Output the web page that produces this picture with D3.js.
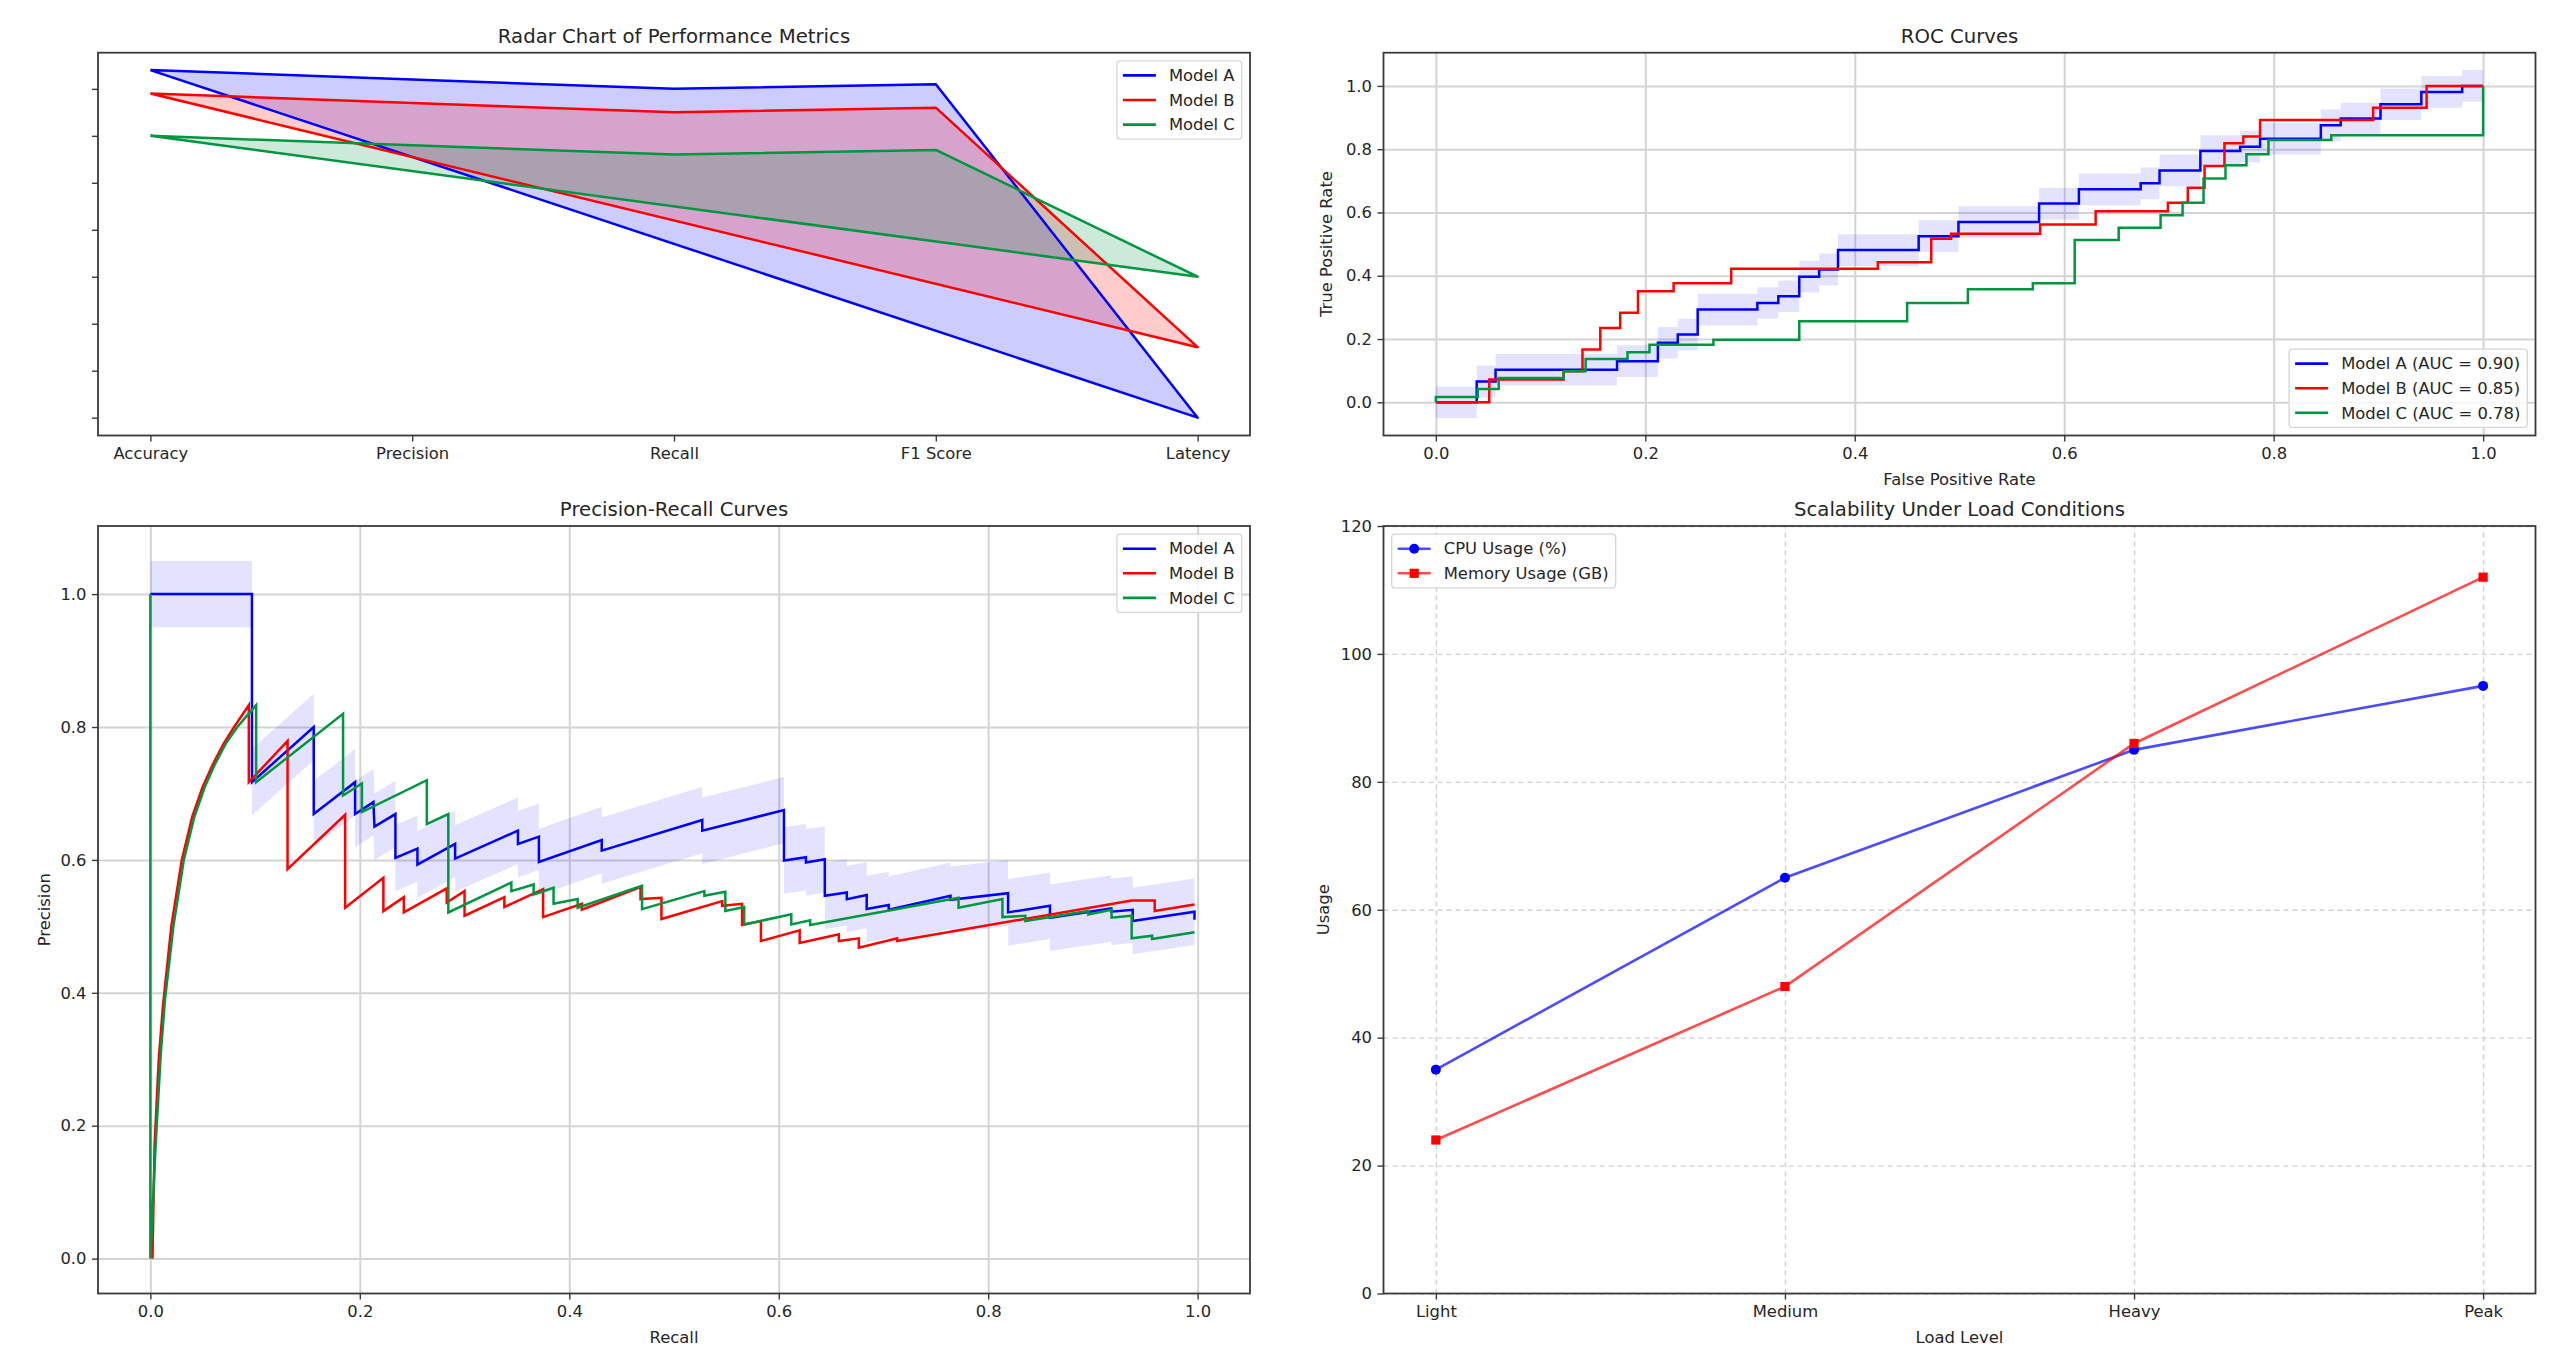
<!DOCTYPE html>
<html><head><meta charset="utf-8">
<script src="https://cdn.jsdelivr.net/npm/d3@7"></script>
<style>
body{margin:0;background:#fff;}
svg{display:block;}
text{font-family:"DejaVu Sans",sans-serif;}
</style>
</head><body>
<svg id="chart" width="2551" height="1368"></svg>
<script>
// ---------------- DATA ----------------
const modelNames = ["Model A", "Model B", "Model C"];

// Radar (drawn on cartesian axes)
const radarCategories = ["Accuracy", "Precision", "Recall", "F1 Score", "Latency"];
const radarModelA = [0.94, 0.92, 0.90, 0.91, 0.20];
const radarModelB = [0.89, 0.87, 0.85, 0.86, 0.35];
const radarModelC = [0.80, 0.78, 0.76, 0.77, 0.50];
const radarYTicks = [0.2, 0.3, 0.4, 0.5, 0.6, 0.7, 0.8, 0.9];

// ROC curves (step-after breakpoints)
const rocAUC = [0.90, 0.85, 0.78];
const rocA_fpr = [0, 0.039, 0.057, 0.173, 0.212, 0.231, 0.250, 0.307, 0.327, 0.347, 0.366, 0.384, 0.461, 0.499, 0.576, 0.614, 0.673, 0.691, 0.730, 0.768, 0.787, 0.845, 0.864, 0.902, 0.941, 0.980, 1.0];
const rocA_tpr = [0, 0.066, 0.103, 0.130, 0.188, 0.214, 0.293, 0.314, 0.335, 0.397, 0.420, 0.481, 0.525, 0.570, 0.628, 0.673, 0.692, 0.733, 0.794, 0.808, 0.833, 0.876, 0.897, 0.942, 0.981, 1.0, 1.0];
const rocB_fpr = [0, 0.051, 0.122, 0.140, 0.157, 0.176, 0.193, 0.227, 0.282, 0.422, 0.473, 0.492, 0.577, 0.630, 0.699, 0.718, 0.734, 0.753, 0.771, 0.787, 0.895, 0.946, 1.0];
const rocB_tpr = [0, 0.072, 0.098, 0.167, 0.235, 0.283, 0.351, 0.376, 0.422, 0.443, 0.517, 0.533, 0.562, 0.604, 0.631, 0.678, 0.747, 0.819, 0.840, 0.892, 0.931, 1.0, 1.0];
const rocC_fpr = [0, 0, 0.040, 0.060, 0.122, 0.143, 0.183, 0.204, 0.265, 0.347, 0.450, 0.508, 0.570, 0.610, 0.652, 0.692, 0.713, 0.733, 0.754, 0.774, 0.795, 0.855, 1.0];
const rocC_tpr = [0, 0.017, 0.042, 0.077, 0.098, 0.137, 0.158, 0.182, 0.198, 0.256, 0.314, 0.357, 0.376, 0.513, 0.552, 0.591, 0.631, 0.707, 0.749, 0.784, 0.829, 0.844, 1.0];
const rocBandHalfWidth = 0.05;

// Precision-Recall curves ([recall, precision] vertices)
const prModelA = [[0,1.0],[0.097,1.0],[0.097,0.717],[0.156,0.80],[0.156,0.669],[0.1955,0.717],[0.1955,0.669],[0.213,0.687],[0.214,0.650],[0.234,0.669],[0.234,0.603],[0.255,0.617],[0.255,0.593],[0.291,0.624],[0.291,0.602],[0.351,0.644],[0.351,0.624],[0.371,0.635],[0.371,0.597],[0.431,0.630],[0.431,0.614],[0.527,0.660],[0.527,0.644],[0.605,0.675],[0.605,0.599],[0.626,0.604],[0.626,0.596],[0.644,0.601],[0.644,0.546],[0.665,0.551],[0.665,0.541],[0.684,0.547],[0.684,0.526],[0.705,0.532],[0.705,0.525],[0.764,0.546],[0.764,0.540],[0.819,0.550],[0.819,0.521],[0.859,0.531],[0.859,0.513],[0.9175,0.527],[0.9175,0.522],[0.938,0.525],[0.938,0.508],[0.997,0.522],[0.997,0.510]];
const prModelB = [[0.002,0.0],[0.004,0.17],[0.008,0.30],[0.012,0.38],[0.02,0.50],[0.03,0.60],[0.04,0.665],[0.05,0.71],[0.06,0.745],[0.07,0.775],[0.08,0.80],[0.094,0.833],[0.094,0.717],[0.131,0.779],[0.131,0.586],[0.186,0.668],[0.186,0.528],[0.2225,0.573],[0.2225,0.523],[0.242,0.544],[0.242,0.521],[0.283,0.557],[0.283,0.536],[0.300,0.553],[0.300,0.516],[0.338,0.544],[0.338,0.529],[0.375,0.556],[0.375,0.514],[0.412,0.534],[0.412,0.525],[0.468,0.559],[0.468,0.541],[0.488,0.543],[0.488,0.511],[0.546,0.538],[0.546,0.531],[0.565,0.534],[0.565,0.502],[0.583,0.508],[0.583,0.478],[0.620,0.494],[0.620,0.475],[0.6574,0.488],[0.6574,0.478],[0.6765,0.482],[0.6765,0.468],[0.713,0.482],[0.713,0.478],[0.937,0.539],[0.959,0.539],[0.959,0.523],[0.997,0.533]];
const prModelC = [[0,1.0],[0,0.0],[0.005,0.17],[0.010,0.31],[0.014,0.39],[0.022,0.50],[0.032,0.60],[0.042,0.665],[0.052,0.71],[0.062,0.745],[0.072,0.775],[0.083,0.80],[0.101,0.833],[0.101,0.717],[0.184,0.82],[0.184,0.697],[0.202,0.715],[0.202,0.672],[0.264,0.72],[0.264,0.654],[0.2845,0.669],[0.2845,0.521],[0.3447,0.566],[0.3447,0.553],[0.366,0.563],[0.366,0.548],[0.385,0.558],[0.385,0.534],[0.408,0.541],[0.408,0.528],[0.4695,0.561],[0.4695,0.526],[0.529,0.553],[0.529,0.546],[0.549,0.552],[0.549,0.523],[0.567,0.529],[0.567,0.503],[0.612,0.518],[0.612,0.503],[0.630,0.509],[0.630,0.502],[0.7717,0.543],[0.7717,0.528],[0.8136,0.541],[0.8136,0.514],[0.8355,0.516],[0.8355,0.508],[0.8955,0.523],[0.8955,0.518],[0.9178,0.525],[0.9178,0.513],[0.937,0.516],[0.937,0.482],[0.9565,0.486],[0.9565,0.481],[0.997,0.491]];
const prBandHalfWidth = 0.05;

// Scalability
const loadLevels = ["Light", "Medium", "Heavy", "Peak"];
const cpuUsage = [35, 65, 85, 95];
const memoryUsage = [24, 48, 86, 112];
const usageTicks = [0, 20, 40, 60, 80, 100, 120];
const unitTicks = [0, 0.2, 0.4, 0.6, 0.8, 1.0];

// ---------------- STYLE / LAYOUT ----------------
const COL = {A: "#0000ff", B: "#ff0000", C: "#009640"};
const FS = 16.4, TFS = 19.7, TXT = "#262626", SPINE = "#3a3a3a";
const svg = d3.select("#chart");
const boxRadar = {x0: 98, x1: 1250, y0: 52.7, y1: 435.5};
const boxROC = {x0: 1383.5, x1: 2535.5, y0: 52.7, y1: 435.5};
const boxPR = {x0: 98, x1: 1250, y0: 526, y1: 1293.5};
const boxScal = {x0: 1383.5, x1: 2535.5, y0: 526, y1: 1293.5};

let clipId = 0;
function clip(box) {
  const id = "clip" + (clipId++);
  svg.append("clipPath").attr("id", id).append("rect")
    .attr("x", box.x0).attr("y", box.y0).attr("width", box.x1 - box.x0).attr("height", box.y1 - box.y0);
  return "url(#" + id + ")";
}

function drawGrid(box, x, y, xt, yt, color, width, dash) {
  const g = svg.append("g");
  g.append("g").attr("transform", `translate(0,${box.y1})`)
    .call(d3.axisBottom(x).tickValues(xt).tickSize(-(box.y1 - box.y0)).tickFormat(""))
    .call(s => { s.select(".domain").remove(); s.selectAll("line").attr("stroke", color).attr("stroke-width", width).attr("stroke-dasharray", dash); });
  g.append("g").attr("transform", `translate(${box.x0},0)`)
    .call(d3.axisLeft(y).tickValues(yt).tickSize(-(box.x1 - box.x0)).tickFormat(""))
    .call(s => { s.select(".domain").remove(); s.selectAll("line").attr("stroke", color).attr("stroke-width", width).attr("stroke-dasharray", dash); });
}

function drawAxes(box, x, y, o) {
  const g = svg.append("g");
  const styleAxis = s => {
    s.select(".domain").remove();
    s.selectAll("line").attr("stroke", SPINE).attr("stroke-width", 1.4);
    s.selectAll("text").attr("font-size", FS).attr("fill", TXT).attr("font-family", "DejaVu Sans");
  };
  g.append("g").attr("transform", `translate(0,${box.y1})`)
    .call(d3.axisBottom(x).tickValues(o.xTicks).tickFormat(o.xFormat).tickSize(6).tickPadding(5.5).tickSizeOuter(0))
    .call(styleAxis);
  g.append("g").attr("transform", `translate(${box.x0},0)`)
    .call(d3.axisLeft(y).tickValues(o.yTicks).tickFormat(o.yFormat).tickSize(6).tickPadding(5.5).tickSizeOuter(0))
    .call(styleAxis);
  g.append("rect").attr("x", box.x0).attr("y", box.y0).attr("width", box.x1 - box.x0).attr("height", box.y1 - box.y0)
    .attr("fill", "none").attr("stroke", SPINE).attr("stroke-width", 1.8);
  const cx = (box.x0 + box.x1) / 2;
  g.append("text").attr("x", cx).attr("y", box.y0 - 9.8).attr("text-anchor", "middle")
    .attr("font-size", TFS).attr("fill", TXT).text(o.title);
  if (o.xlabel) g.append("text").attr("x", cx).attr("y", box.y1 + 49).attr("text-anchor", "middle")
    .attr("font-size", FS).attr("fill", TXT).text(o.xlabel);
  if (o.ylabel) {
    const cy = (box.y0 + box.y1) / 2;
    g.append("text").attr("transform", `translate(${box.x0 - o.ylabelOffset},${cy}) rotate(-90)`)
      .attr("text-anchor", "middle").attr("dy", "0.35em").attr("font-size", FS).attr("fill", TXT).text(o.ylabel);
  }
}

function legend(box, items, corner) {
  const rowH = 24.6, n = items.length;
  const g = svg.append("g");
  const tmp = g.append("g");
  const widths = items.map(it => {
    const t = tmp.append("text").attr("font-size", FS).text(it.label);
    return t.node().getComputedTextLength();
  });
  tmp.remove();
  const w = 6 + 33 + 13 + d3.max(widths) + 7;
  const h = (n - 1) * rowH + 29;
  const bx = corner.includes("r") ? box.x1 - 8.2 - w : box.x0 + 8.2;
  const by = corner.includes("u") ? box.y0 + 8.2 : box.y1 - 8.2 - h;
  g.append("rect").attr("x", bx).attr("y", by).attr("width", w).attr("height", h).attr("rx", 3)
    .attr("fill", "#fff").attr("fill-opacity", 0.8).attr("stroke", "#d6d6d6").attr("stroke-width", 1.3);
  items.forEach((it, i) => {
    const ry = by + 14.5 + i * rowH;
    g.append("line").attr("x1", bx + 6).attr("x2", bx + 39).attr("y1", ry).attr("y2", ry)
      .attr("stroke", it.color).attr("stroke-width", 2.6).attr("stroke-opacity", it.lineOpacity || 1);
    if (it.marker === "circle") g.append("circle").attr("cx", bx + 22.5).attr("cy", ry).attr("r", 5).attr("fill", it.color);
    if (it.marker === "square") g.append("rect").attr("x", bx + 22.5 - 4.6).attr("y", ry - 4.6).attr("width", 9.2).attr("height", 9.2).attr("fill", it.color);
    g.append("text").attr("x", bx + 52).attr("y", ry).attr("dy", "0.35em").attr("font-size", FS).attr("fill", TXT).text(it.label);
  });
}

// ---------------- RADAR (cartesian) ----------------
{
  const box = boxRadar;
  const x = d3.scaleLinear().domain([-0.2, 4.2]).range([box.x0, box.x1]);
  const y = d3.scaleLinear().domain([0.162, 0.977]).range([box.y1, box.y0]);
  const series = [radarModelA, radarModelB, radarModelC];
  const cols = [COL.A, COL.B, COL.C];
  const line = d3.line().x(d => x(d[0])).y(d => y(d[1]));
  const pts = series.map(vals => {
    const p = vals.map((v, i) => [i, v]);
    p.push([0, vals[0]]);
    return p;
  });
  const g = svg.append("g").attr("clip-path", clip(box));
  pts.forEach((p, k) => g.append("path").attr("d", line(p) + "Z").attr("fill", cols[k]).attr("fill-opacity", 0.2).attr("stroke", "none"));
  pts.forEach((p, k) => g.append("path").attr("d", line(p)).attr("fill", "none").attr("stroke", cols[k]).attr("stroke-width", 2.5).attr("stroke-linejoin", "round"));
  drawAxes(box, x, y, {xTicks: d3.range(radarCategories.length), xFormat: i => radarCategories[i],
    yTicks: radarYTicks, yFormat: () => "", title: "Radar Chart of Performance Metrics"});
  legend(box, modelNames.map((m, k) => ({label: m, color: cols[k]})), "ur");
}

// ---------------- ROC ----------------
{
  const box = boxROC;
  const x = d3.scaleLinear().domain([-0.05, 1.05]).range([box.x0, box.x1]);
  const y = d3.scaleLinear().domain([-0.105, 1.105]).range([box.y1, box.y0]);
  drawGrid(box, x, y, unitTicks, unitTicks, "#d4d4d4", 2, null);
  const g = svg.append("g").attr("clip-path", clip(box));
  const toPts = (f, t) => f.map((v, i) => [v, t[i]]);
  const A = toPts(rocA_fpr, rocA_tpr), B = toPts(rocB_fpr, rocB_tpr), C = toPts(rocC_fpr, rocC_tpr);
  const band = d3.area().curve(d3.curveStepAfter).x(d => x(d[0]))
    .y0(d => y(d[1] - rocBandHalfWidth)).y1(d => y(d[1] + rocBandHalfWidth));
  g.append("path").attr("d", band(A)).attr("fill", COL.A).attr("fill-opacity", 0.11);
  const line = d3.line().curve(d3.curveStepAfter).x(d => x(d[0])).y(d => y(d[1]));
  [[A, COL.A], [B, COL.B], [C, COL.C]].forEach(([p, c]) =>
    g.append("path").attr("d", line(p)).attr("fill", "none").attr("stroke", c).attr("stroke-width", 2.5));
  drawAxes(box, x, y, {xTicks: unitTicks, xFormat: d3.format(".1f"), yTicks: unitTicks, yFormat: d3.format(".1f"),
    title: "ROC Curves", xlabel: "False Positive Rate", ylabel: "True Positive Rate", ylabelOffset: 57});
  legend(box, modelNames.map((m, k) => ({label: `${m} (AUC = ${rocAUC[k].toFixed(2)})`, color: [COL.A, COL.B, COL.C][k]})), "lr");
}

// ---------------- PRECISION-RECALL ----------------
{
  const box = boxPR;
  const x = d3.scaleLinear().domain([-0.05, 1.05]).range([box.x0, box.x1]);
  const y = d3.scaleLinear().domain([-0.0525, 1.1025]).range([box.y1, box.y0]);
  drawGrid(box, x, y, unitTicks, unitTicks, "#d4d4d4", 2, null);
  const g = svg.append("g").attr("clip-path", clip(box));
  const band = d3.area().x(d => x(d[0])).y0(d => y(d[1] - prBandHalfWidth)).y1(d => y(d[1] + prBandHalfWidth));
  g.append("path").attr("d", band(prModelA)).attr("fill", COL.A).attr("fill-opacity", 0.11);
  const line = d3.line().x(d => x(d[0])).y(d => y(d[1]));
  [[prModelA, COL.A], [prModelB, COL.B], [prModelC, COL.C]].forEach(([p, c]) =>
    g.append("path").attr("d", line(p)).attr("fill", "none").attr("stroke", c).attr("stroke-width", 2.5));
  drawAxes(box, x, y, {xTicks: unitTicks, xFormat: d3.format(".1f"), yTicks: unitTicks, yFormat: d3.format(".1f"),
    title: "Precision-Recall Curves", xlabel: "Recall", ylabel: "Precision", ylabelOffset: 54});
  legend(box, modelNames.map((m, k) => ({label: m, color: [COL.A, COL.B, COL.C][k]})), "ur");
}

// ---------------- SCALABILITY ----------------
{
  const box = boxScal;
  const x = d3.scaleLinear().domain([-0.15, 3.15]).range([box.x0, box.x1]);
  const y = d3.scaleLinear().domain([0, 120]).range([box.y1, box.y0]);
  drawGrid(box, x, y, d3.range(loadLevels.length), usageTicks, "#d0d0d0", 1.4, "5,4");
  const g = svg.append("g").attr("clip-path", clip(box));
  const line = d3.line().x((d, i) => x(i)).y(d => y(d));
  g.append("path").attr("d", line(cpuUsage)).attr("fill", "none").attr("stroke", COL.A).attr("stroke-opacity", 0.7).attr("stroke-width", 2.6);
  g.append("path").attr("d", line(memoryUsage)).attr("fill", "none").attr("stroke", COL.B).attr("stroke-opacity", 0.7).attr("stroke-width", 2.6);
  g.selectAll("circle.cpu").data(cpuUsage).enter().append("circle").attr("class", "cpu")
    .attr("cx", (d, i) => x(i)).attr("cy", d => y(d)).attr("r", 5).attr("fill", COL.A);
  g.selectAll("rect.mem").data(memoryUsage).enter().append("rect").attr("class", "mem")
    .attr("x", (d, i) => x(i) - 4.6).attr("y", d => y(d) - 4.6).attr("width", 9.2).attr("height", 9.2).attr("fill", COL.B);
  drawAxes(box, x, y, {xTicks: d3.range(loadLevels.length), xFormat: i => loadLevels[i], yTicks: usageTicks, yFormat: d3.format("d"),
    title: "Scalability Under Load Conditions", xlabel: "Load Level", ylabel: "Usage", ylabelOffset: 60});
  legend(box, [{label: "CPU Usage (%)", color: COL.A, marker: "circle", lineOpacity: 0.7},
               {label: "Memory Usage (GB)", color: COL.B, marker: "square", lineOpacity: 0.7}], "ul");
}
</script>
</body></html>
